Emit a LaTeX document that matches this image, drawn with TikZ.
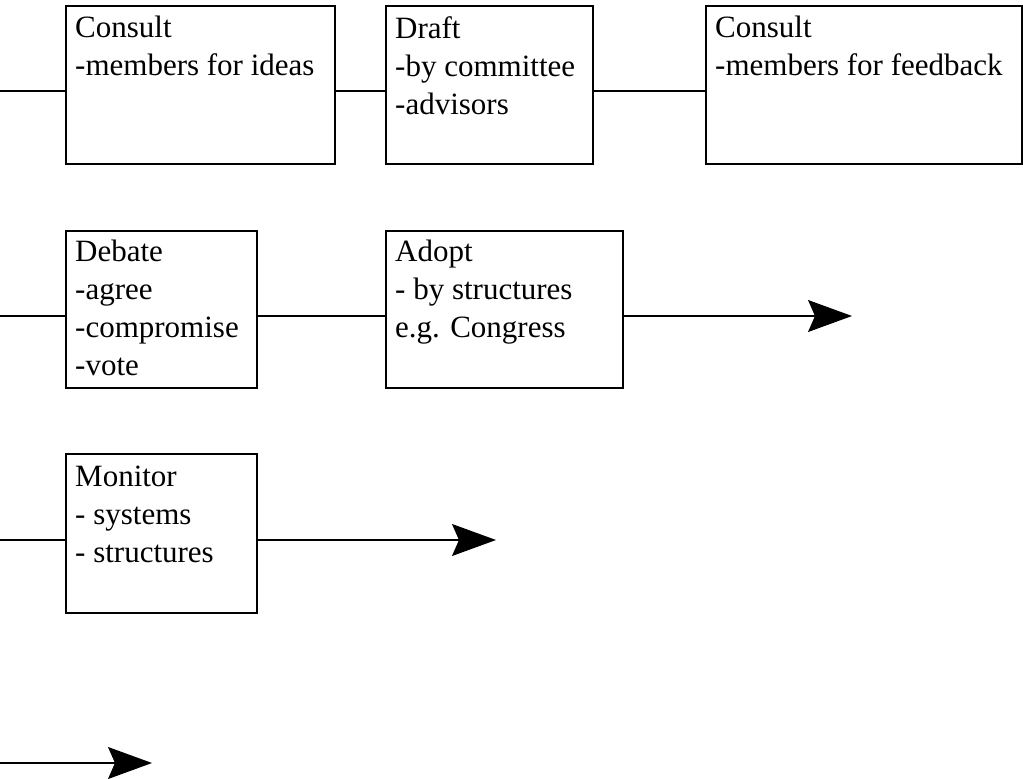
\documentclass[tikz,border=0pt]{standalone}
\usepackage{fontspec}
\setmainfont{Liberation Serif}
\usetikzlibrary{arrows.meta}
\tikzset{
  box/.style={draw=black, line width=1.2pt, rectangle, inner sep=0pt, outer sep=0pt, anchor=north west},
  txt/.style={anchor=north west, inner sep=0pt, align=left, font={\fontsize{31}{38}\selectfont}},
  conn/.style={draw=black, line width=1.1pt},
  arr/.style={conn, -{Stealth[length=44pt, width=32pt, inset=7pt]}}
}
\begin{document}
\begin{tikzpicture}[x=1pt, y=-1pt]
\useasboundingbox (0,0) rectangle (1023,779);
% boxes
\node[box, minimum width=269, minimum height=158] (c1) at (66,6) {};
\node[box, minimum width=207, minimum height=158] (dr) at (386,6) {};
\node[box, minimum width=316, minimum height=158] (c2) at (706,6) {};
\node[box, minimum width=191, minimum height=157] (db) at (66,231) {};
\node[box, minimum width=237, minimum height=157] (ad) at (386,231) {};
\node[box, minimum width=191, minimum height=159] (mo) at (66,454) {};
% texts
\node[txt] (c1t) at ([shift={(9,10)}]c1.north west) {Consult\\-members for ideas};
\node[txt] (drt) at ([shift={(9,10)}]dr.north west) {Draft\\-by committee\\-advisors};
\node[txt] (c2t) at ([shift={(9,10)}]c2.north west) {Consult\\-members for feedback};
\node[txt] (dbt) at ([shift={(9,9)}]db.north west) {Debate\\-agree\\-compromise\\-vote};
\node[txt] (adt) at ([shift={(9,9)}]ad.north west) {Adopt\\- by structures\\e.g. Congress};
\node[txt] (mot) at ([shift={(9,12)}]mo.north west) {Monitor\\- systems\\- structures};
% row coordinates
\coordinate (r1) at (0,91);
\coordinate (r2) at (0,316);
\coordinate (r3) at (0,540);
\coordinate (r4) at (0,763);
\coordinate (e2) at (852,316);
\coordinate (e3) at (496,540);
\coordinate (e4) at (152,763);
% connectors
\draw[conn] (r1) -- (r1 -| c1.west);
\draw[conn] (r1 -| c1.east) -- (r1 -| dr.west);
\draw[conn] (r1 -| dr.east) -- (r1 -| c2.west);
\draw[conn] (r2) -- (r2 -| db.west);
\draw[conn] (r2 -| db.east) -- (r2 -| ad.west);
\draw[arr] (r2 -| ad.east) -- (e2);
\draw[conn] (r3) -- (r3 -| mo.west);
\draw[arr] (r3 -| mo.east) -- (e3);
\draw[arr] (r4) -- (e4);
\end{tikzpicture}
\end{document}
